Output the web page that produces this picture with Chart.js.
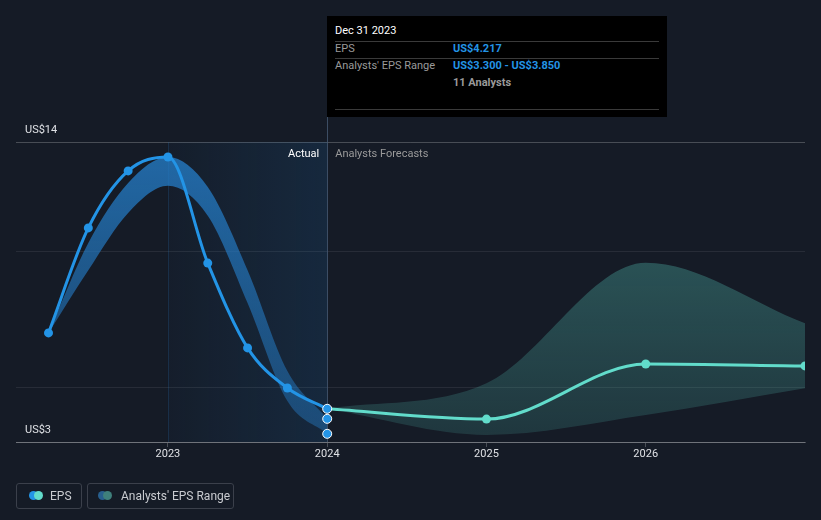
<!DOCTYPE html>
<html><head><meta charset="utf-8">
<script src="https://cdn.jsdelivr.net/npm/chart.js@4"></script>
<style>
html,body{margin:0;padding:0;background:#151b26;}
#wrap{position:relative;width:821px;height:520px;overflow:hidden;font-family:Roboto,"Noto Sans",Arial,sans-serif;}
#c{position:absolute;left:0;top:0;}
.tip{position:absolute;left:327px;top:16px;width:340px;height:101px;background:#000;}
.t{position:absolute;font-size:11px;line-height:14px;white-space:nowrap;}
.hr{position:absolute;left:8px;width:324px;height:1px;background:#3a3a3a;}
.lg{position:absolute;top:483px;height:26px;border:1px solid #3b404b;border-radius:3px;box-sizing:border-box;}
.lg .d{position:absolute;top:7px;width:9px;height:9px;border-radius:50%;}
.lg .l{position:absolute;top:5px;font-size:12px;line-height:14px;color:#c9cbd0;white-space:nowrap;}
</style></head>
<body><div id="wrap">
<canvas id="c" width="821" height="520"></canvas>
<div class="tip">
  <div class="t" style="left:8px;top:8px;color:#fff;">Dec 31 2023</div>
  <div class="hr" style="top:25px"></div>
  <div class="t" style="left:8px;top:26px;color:#9a9a9a;">EPS</div>
  <div class="t" style="left:126px;top:26px;color:#2394e6;font-weight:bold;">US$4.217</div>
  <div class="hr" style="top:42px"></div>
  <div class="t" style="left:8px;top:43px;color:#9a9a9a;">Analysts' EPS Range</div>
  <div class="t" style="left:126px;top:43px;color:#2394e6;font-weight:bold;">US$3.300 - US$3.850</div>
  <div class="t" style="left:126px;top:60px;color:#9a9a9a;font-weight:bold;">11 Analysts</div>
  <div class="hr" style="top:93px"></div>
</div>
<div class="lg" style="left:16px;width:66px;">
  <div class="d" style="left:12px;background:#2394e6;"></div>
  <div class="d" style="left:17px;background:#62dccb;"></div>
  <div class="l" style="left:33px;">EPS</div>
</div>
<div class="lg" style="left:87px;width:147px;">
  <div class="d" style="left:10px;background:#285f8e;"></div>
  <div class="d" style="left:15px;background:#3f807c;"></div>
  <div class="l" style="left:33px;">Analysts' EPS Range</div>
</div>
</div>
<script>
// ---- data (x = fractional year; 2023.0 = Dec 31 2022) ----
const actualDates   = [2022.25, 2022.5, 2022.75, 2023.0, 2023.25, 2023.5, 2023.75, 2024.0];
const actualEPS     = [7.0, 10.85, 12.94, 13.45, 9.56, 6.45, 4.98, 4.217];
const pastRangeHigh = [7.0, 10.3, 12.5, 13.45, 12.35, 9.3, 5.6, 3.85];
const pastRangeLow  = [7.0, 9.3, 11.4, 12.4, 11.3, 8.1, 4.5, 3.3];
const forecastDates = [2024.0, 2025.0, 2026.0, 2027.0];
const forecastEPS   = [4.217, 3.84, 5.86, 5.79];
const forecastHigh  = [4.217, 5.15, 9.57, 7.35];
const forecastLow   = [4.217, 3.26, 3.99, 4.97];
const yTicks  = [3, 5, 10, 14];
const yLabels = ['US$3', '', '', 'US$14'];
const xTicks  = [2023, 2024, 2025, 2026];
const xLabels = ['2023', '2024', '2025', '2026'];
const actualStart = 2023, actualEnd = 2024;

const pts = (xs, ys) => xs.map((x, i) => ({x: x, y: ys[i]}));
const BLUE = '#2394e6', TEAL = '#62dccb';

function vGrad(ctx, area, c1, c2) {
  const g = ctx.createLinearGradient(0, area.top, 0, area.bottom);
  g.addColorStop(0, c1); g.addColorStop(1, c2); return g;
}

const bgPlugin = {
  id: 'bg',
  beforeDatasetsDraw(chart) {
    const {ctx, chartArea: a, scales: {x}} = chart;
    const x0 = x.getPixelForValue(actualStart), x1 = x.getPixelForValue(actualEnd);
    ctx.save();
    const g = ctx.createLinearGradient(x0, 0, x1, 0);
    g.addColorStop(0, 'rgba(30,110,180,0.04)');
    g.addColorStop(1, 'rgba(30,110,180,0.17)');
    ctx.fillStyle = g;
    ctx.fillRect(x0, a.top, x1 - x0, a.bottom - a.top);
    ctx.fillStyle = 'rgba(40,100,160,0.25)';
    ctx.fillRect(Math.round(x0), a.top, 1, a.bottom - a.top);
    ctx.fillStyle = 'rgba(70,90,115,0.8)';
    ctx.fillRect(Math.round(x1), 117, 1, a.bottom - 117);
    ctx.font = '11px Roboto, "Noto Sans", sans-serif';
    ctx.textBaseline = 'middle';
    ctx.textAlign = 'right';
    ctx.fillStyle = '#ffffff';
    ctx.fillText('Actual', x1 - 8, a.top + 12);
    ctx.textAlign = 'left';
    ctx.fillStyle = '#9a9a9a';
    ctx.fillText('Analysts Forecasts', x1 + 8, a.top + 12);
    ctx.restore();
  }
};

new Chart(document.getElementById('c'), {
  type: 'line',
  data: {
    datasets: [
      { label: 'pastHigh', data: pts(actualDates, pastRangeHigh), borderWidth: 0, pointRadius: 0,
        fill: '+1', order: 10,
        backgroundColor: c => c.chart.chartArea ? vGrad(c.chart.ctx, c.chart.chartArea, 'rgba(37,125,200,0.8)', 'rgba(37,125,200,0.4)') : 'rgba(37,125,200,0.6)' },
      { label: 'pastLow', data: pts(actualDates, pastRangeLow), borderWidth: 0, pointRadius: 0, fill: false, order: 11 },
      { label: 'fcHigh', data: pts(forecastDates, forecastHigh), borderWidth: 0, pointRadius: 0,
        fill: '+1', order: 12,
        backgroundColor: c => c.chart.chartArea ? vGrad(c.chart.ctx, c.chart.chartArea, 'rgba(80,180,170,0.48)', 'rgba(80,180,170,0.18)') : 'rgba(80,180,170,0.3)' },
      { label: 'fcLow', data: pts(forecastDates, forecastLow), borderWidth: 0, pointRadius: 0, fill: false, order: 13 },
      { label: 'fcEPS', data: pts(forecastDates, forecastEPS), borderColor: TEAL, backgroundColor: TEAL,
        borderWidth: 3, pointRadius: c => c.dataIndex === 0 ? 0 : 4.5, pointBorderWidth: 0, fill: false, order: 3 },
      { label: 'EPS', data: pts(actualDates, actualEPS), borderColor: BLUE, backgroundColor: BLUE,
        borderWidth: 3, pointRadius: 4.5,
        pointBorderColor: c => c.dataIndex === actualEPS.length - 1 ? '#ffffff' : BLUE,
        pointBorderWidth: c => c.dataIndex === actualEPS.length - 1 ? 1 : 0, fill: false, order: 1 },
      { label: 'rangeEnd', showLine: false,
        data: [{x: actualDates[actualDates.length - 1], y: pastRangeHigh[pastRangeHigh.length - 1]},
               {x: actualDates[actualDates.length - 1], y: pastRangeLow[pastRangeLow.length - 1]}],
        backgroundColor: BLUE, pointBorderColor: '#ffffff', pointBorderWidth: 1, pointRadius: 4.5, order: 2 }
    ]
  },
  options: {
    responsive: false, animation: false, devicePixelRatio: 1,
    layout: { padding: { left: 16, right: 16, top: 142, bottom: 48 } },
    plugins: { legend: { display: false }, tooltip: { enabled: false } },
    elements: { line: { cubicInterpolationMode: 'monotone' } },
    scales: {
      x: {
        type: 'linear', min: 2022.046, max: 2027,
        afterFit: s => { s.height = 30; },
        afterBuildTicks: s => { s.ticks = xTicks.map(v => ({value: v})); },
        ticks: { color: '#dfe1e5', font: { size: 11, family: 'Roboto' }, padding: 1, maxRotation: 0,
                 callback: (v) => xLabels[xTicks.indexOf(v)] },
        grid: { drawOnChartArea: false, drawTicks: true, tickLength: 5, color: 'rgba(255,255,255,0.22)' },
        border: { display: true, color: 'rgba(255,255,255,0.22)' }
      },
      y: {
        min: 3, max: 14,
        afterFit: s => { s.width = 0; },
        afterBuildTicks: s => { s.ticks = yTicks.map(v => ({value: v})); },
        ticks: { mirror: true, padding: 9, labelOffset: -12, color: '#dfe1e5', font: { size: 11, family: 'Roboto' },
                 callback: (v) => yLabels[yTicks.indexOf(v)] },
        grid: { drawTicks: false, color: c => (c.tick && (c.tick.value === 14 || c.tick.value === 3)) ? 'rgba(255,255,255,0.22)' : 'rgba(255,255,255,0.08)' },
        border: { display: false }
      }
    }
  },
  plugins: [bgPlugin]
});
</script>
</body></html>
